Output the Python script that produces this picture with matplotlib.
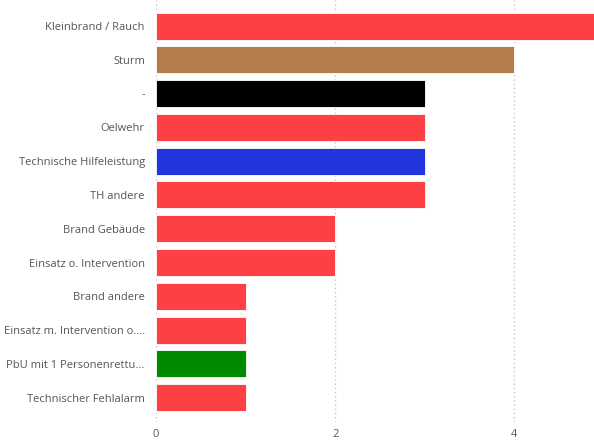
import matplotlib
matplotlib.use('Agg')
import matplotlib.pyplot as plt

categories = ['Kleinbrand / Rauch', 'Sturm', '-', 'Oelwehr', 'Technische Hilfeleistung',
              'TH andere', 'Brand Gebäude', 'Einsatz o. Intervention', 'Brand andere',
              'Einsatz m. Intervention o....', 'PbU mit 1 Personenrettu...', 'Technischer Fehlalarm']
counts = [5, 4, 3, 3, 3, 3, 2, 2, 1, 1, 1, 1]
colors = ['#FD4043', '#B27D4A', '#000000', '#FD4043', '#2035DB', '#FD4043',
          '#FD4043', '#FD4043', '#FD4043', '#FD4043', '#008A00', '#FD4043']
ticks = [0, 2, 4]

plt.rcParams['font.family'] = ['Open Sans', 'DejaVu Sans']

fig = plt.figure(figsize=(5.94, 4.43), dpi=100)
ax = fig.add_axes([0.2626, 0.0474, 0.7374, 0.9526])

pos = range(len(categories))
ax.barh(pos, counts, height=0.8, color=colors, edgecolor='#ffffff', linewidth=0.6, zorder=2)

ax.set_xlim(0, 4.89)
ax.set_ylim(11.72, -0.77)
ax.set_yticks(list(pos))
ax.set_yticklabels(categories, fontsize=8, color='#555555')
ax.set_xticks(ticks)
ax.set_xticklabels([str(t) for t in ticks], fontsize=8, color='#555555')
ax.tick_params(axis='both', length=0)
ax.tick_params(axis='y', pad=8)
ax.tick_params(axis='x', pad=5)
ax.grid(axis='x', linestyle=(0, (1, 2)), color='#c8c8c8', linewidth=1, zorder=0)
for s in ax.spines.values():
    s.set_visible(False)

fig.savefig('out.png', dpi=100)
